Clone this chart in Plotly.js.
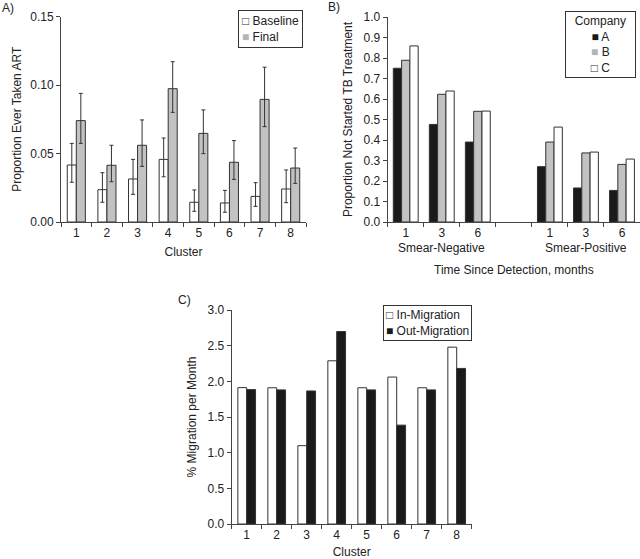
<!DOCTYPE html>
<html>
<head>
<meta charset="utf-8">
<script src="https://cdn.plot.ly/plotly-3.0.1.min.js"></script>
<style>html,body{margin:0;padding:0;background:#fff;}#chart{width:640px;height:559px;}</style>
</head>
<body>
<div id="chart"></div>
<script>
// ---------- Panel A data ----------
var clustersA = ["1","2","3","4","5","6","7","8"];
var baseline   = [0.0416,0.0236,0.0314,0.0457,0.0144,0.0139,0.0187,0.0241];
var baselineHi = [0.0574,0.0360,0.0457,0.0613,0.0234,0.0231,0.0287,0.0380];
var baselineLo = [0.0290,0.0144,0.0202,0.0330,0.0078,0.0071,0.0114,0.0141];
var finalVals  = [0.0740,0.0414,0.0560,0.0973,0.0647,0.0436,0.0895,0.0394];
var finalHi    = [0.0939,0.0560,0.0745,0.1170,0.0818,0.0594,0.1130,0.0540];
var finalLo    = [0.0574,0.0294,0.0406,0.0800,0.0499,0.0311,0.0696,0.0282];
var seriesNamesA = ["Baseline","Final"];

// ---------- Panel B data ----------
var slotsB      = ["Neg-1","Neg-3","Neg-6","gap","Pos-1","Pos-3","Pos-6"];
var slotLabelsB = ["1","3","6","","1","3","6"];
var companyA = [0.750,0.476,0.390,null,0.270,0.166,0.154];
var companyB = [0.789,0.623,0.540,null,0.390,0.337,0.281];
var companyC = [0.859,0.639,0.541,null,0.463,0.341,0.307];
var companyNames = ["A","B","C"];
var groupLabelsB = ["Smear-Negative","Smear-Positive"];
var groupCentersB = ["Neg-3","Pos-3"];

// ---------- Panel C data ----------
var clustersC = ["1","2","3","4","5","6","7","8"];
var inMigration  = [1.912,1.910,1.098,2.288,1.910,2.060,1.910,2.479];
var outMigration = [1.884,1.880,1.865,2.698,1.880,1.386,1.880,2.181];
var seriesNamesC = ["In-Migration","Out-Migration"];

function diff(a,b){return a.map(function(v,i){return v-b[i];});}

var FONT = "Liberation Sans, Arial, sans-serif";
var TXT = "#222";
var AX = "#444";
var EDGE = "#333";
var GRAY = "#c2c2c2";
var BLACK = "#1a1a1a";
var WHITE = "#ffffff";

var traces = [
  {type:"bar", x:clustersA, y:baseline, name:seriesNamesA[0], xaxis:"x", yaxis:"y",
   marker:{color:WHITE, line:{color:EDGE, width:1}},
   error_y:{type:"data", symmetric:false, array:diff(baselineHi,baseline), arrayminus:diff(baseline,baselineLo), color:"#333", thickness:1, width:2}},
  {type:"bar", x:clustersA, y:finalVals, name:seriesNamesA[1], xaxis:"x", yaxis:"y",
   marker:{color:GRAY, line:{color:EDGE, width:1}},
   error_y:{type:"data", symmetric:false, array:diff(finalHi,finalVals), arrayminus:diff(finalVals,finalLo), color:"#333", thickness:1, width:2}},

  {type:"bar", x:slotsB, y:companyA, name:companyNames[0], xaxis:"x2", yaxis:"y2",
   width:0.23, offset:-0.345, marker:{color:BLACK, line:{color:EDGE, width:1}}},
  {type:"bar", x:slotsB, y:companyB, name:companyNames[1], xaxis:"x2", yaxis:"y2",
   width:0.23, offset:-0.115, marker:{color:GRAY, line:{color:EDGE, width:1}}},
  {type:"bar", x:slotsB, y:companyC, name:companyNames[2], xaxis:"x2", yaxis:"y2",
   width:0.23, offset:0.115, marker:{color:WHITE, line:{color:EDGE, width:1}}},

  {type:"bar", x:clustersC, y:inMigration, name:seriesNamesC[0], xaxis:"x3", yaxis:"y3",
   marker:{color:WHITE, line:{color:EDGE, width:1}}},
  {type:"bar", x:clustersC, y:outMigration, name:seriesNamesC[1], xaxis:"x3", yaxis:"y3",
   marker:{color:BLACK, line:{color:EDGE, width:1}}}
];

function xax(domain, anchor, title, standoff){
  return {domain:domain, anchor:anchor, type:"category", showline:true, linecolor:AX, linewidth:1,
    ticks:"outside", tickson:"boundaries", ticklen:4, tickcolor:AX, showgrid:false, zeroline:false,
    tickfont:{family:FONT,size:12,color:TXT}, automargin:false,
    title:{text:title, font:{family:FONT,size:12,color:TXT}, standoff:standoff}};
}
function yax(domain, anchor, range, dtick, fmt, title, standoff){
  return {domain:domain, anchor:anchor, range:range, dtick:dtick, tick0:0, tickformat:fmt,
    showline:true, linecolor:AX, linewidth:1, ticks:"outside", ticklen:4, tickcolor:AX,
    showgrid:false, zeroline:false, tickfont:{family:FONT,size:12,color:TXT}, automargin:false,
    title:{text:title, font:{family:FONT,size:12,color:TXT}, standoff:standoff}};
}

var xa2 = xax([0.6058,1.0],"y2","Time Since Detection, months",26);
xa2.tickmode = "array"; xa2.tickvals = slotsB; xa2.ticktext = slotLabelsB;
xa2.categoryorder = "array"; xa2.categoryarray = slotsB;

// legend boxes drawn as bordered text (symbols are text glyphs)
function sq(color, filled){
  return "<span style='color:" + color + "'>" + (filled ? "\u25A0" : "\u25A1") + "</span>";
}
function legendBox(text, xr, ytop, align, pad){
  return {text:text, xref:"paper", yref:"paper", x:xr, y:ytop, xanchor:"right", yanchor:"top",
    align:align, showarrow:false, bgcolor:"#ffffff", bordercolor:"#333", borderwidth:1, borderpad:pad,
    font:{family:FONT,size:12,color:TXT}};
}
var NB = "\u00a0";
var legendA = sq("#333",false) + " " + seriesNamesA[0] + "<br>" + sq("#b4b4b4",true) + " " + seriesNamesA[1] + NB+NB+NB+NB;
var legendB = NB+NB + "Company" + NB+NB + "<br>" + sq(BLACK,true) + " " + companyNames[0] + "<br>" + sq("#b4b4b4",true) + " " + companyNames[1] + "<br>" + sq("#333",false) + " " + companyNames[2];
var legendC = sq("#333",false) + " " + seriesNamesC[0] + "<br>" + sq(BLACK,true) + " " + seriesNamesC[1];

var annotations = [
  {text:"A)", xref:"paper", yref:"paper", x:0, y:1-8/559, xanchor:"left", yanchor:"middle", showarrow:false, font:{family:FONT,size:12,color:TXT}},
  {text:"B)", xref:"paper", yref:"paper", x:326/640, y:1-7/559, xanchor:"left", yanchor:"middle", showarrow:false, font:{family:FONT,size:12,color:TXT}},
  {text:"C)", xref:"paper", yref:"paper", x:176/640, y:1-300/559, xanchor:"left", yanchor:"middle", showarrow:false, font:{family:FONT,size:12,color:TXT}},
  legendBox(legendA, 303/640, 1-10/559, "left", 3),
  legendBox(legendB, 636/640, 1-11/559, "center", 2),
  legendBox(legendC, 472/640, 1-305/559, "left", 2)
];
groupLabelsB.forEach(function(t,i){
  annotations.push({text:t, xref:"x2", yref:"paper", x:groupCentersB[i], y:1-248/559, xanchor:"center", yanchor:"middle",
    showarrow:false, font:{family:FONT,size:12,color:TXT}});
});

var layout = {
  width:640, height:559, margin:{l:0,r:0,t:0,b:0}, paper_bgcolor:"#fff", plot_bgcolor:"#fff",
  barmode:"group", bargap:0.41, bargroupgap:0, showlegend:false,
  font:{family:FONT,size:12,color:TXT},
  xaxis: xax([61/640,306/640],"y","Cluster",8),
  yaxis: yax([1-222/559,1-16.5/559],"x",[0,0.15],0.05,".2f","Proportion Ever Taken ART",6),
  xaxis2: xa2,
  yaxis2: yax([1-222/559,1-17/559],"x2",[0,1.0],0.1,".1f","Proportion Not Started TB Treatment",8),
  xaxis3: xax([231.7/640,471.7/640],"y3","Cluster",6),
  yaxis3: yax([1-524/559,1-310/559],"x3",[0,3.0],0.5,".1f","% Migration per Month",8),
  annotations: annotations
};

Plotly.newPlot("chart", traces, layout, {displayModeBar:false, staticPlot:true});
</script>
</body>
</html>
